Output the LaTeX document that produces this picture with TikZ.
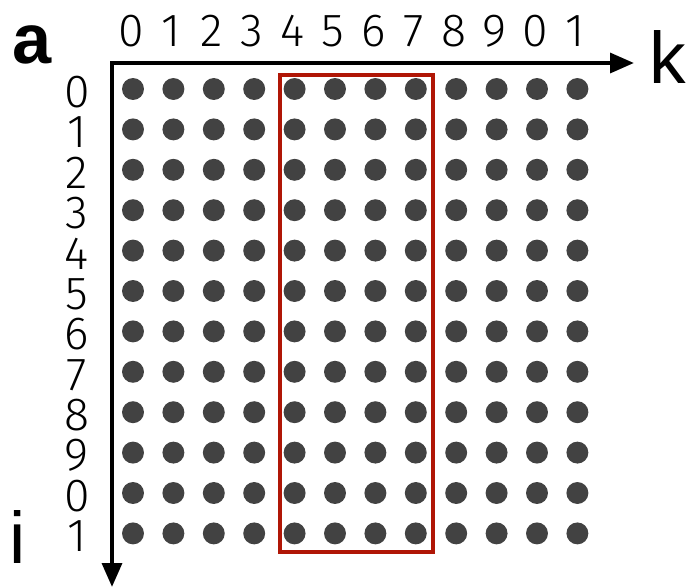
\documentclass[tikz,border=0pt]{standalone}
\usepackage{fontspec}
\setmainfont{Liberation Sans}
\newfontfamily\lightdigits{Fira Sans Light}
\usepackage{xcolor}
\usetikzlibrary{arrows.meta}
\definecolor{dotgray}{RGB}{66,66,66}
\definecolor{boxred}{RGB}{176,22,6}

\begin{document}
\begin{tikzpicture}[
    x=0.025cm, y=-0.025cm,
    axis/.style={
        line width=2.9pt,
        draw=black,
        line join=miter,
        {Triangle[length=17pt,width=14pt]}-{Triangle[length=17pt,width=14pt]}
    },
    grid dot/.style={circle, fill=dotgray, inner sep=0pt, minimum size=15.6pt},
    idx/.style={font=\fontsize{33}{33}\selectfont\lightdigits, inner sep=0pt},
    axlabel/.style={font=\fontsize{52}{52}\selectfont, inner sep=0pt, anchor=base},
    window/.style={draw=boxred, line width=2.9pt}
]
\useasboundingbox (0,0) rectangle (687,587);

% =========================================================
% Axes
% =========================================================
\coordinate (origin) at (112,63);
\coordinate (kend) at (634,63);
\coordinate (iend) at (112,587);
\draw[axis] (iend) -- (origin) -- (kend);

\node[axlabel, font=\fontsize{50}{50}\selectfont\bfseries] (alabel) at (32,63) {a};
\node[axlabel] (klabel) at (668,83) {k};
\node[axlabel] (ilabel) at (18,563) {i};

% =========================================================
% Index labels
% =========================================================
\foreach \c in {0,...,11} {
    \pgfmathtruncatemacro{\lab}{mod(\c,10)}
    \node[idx] (col-\c) at ({131+40.4*\c},31) {\lab};
}
\foreach \r in {0,...,11} {
    \pgfmathtruncatemacro{\lab}{mod(\r,10)}
    \node[idx] (row-\r) at (77,{92+40.4*\r}) {\lab};
}

% =========================================================
% Grid of points
% =========================================================
\foreach \r in {0,...,11}
    \foreach \c in {0,...,11}
        \node[grid dot] (d-\r-\c) at ({133+40.4*\c},{89+40.4*\r}) {};

% Selected block of columns
\draw[window] (280,75) rectangle (433,552);

\end{tikzpicture}
\end{document}
